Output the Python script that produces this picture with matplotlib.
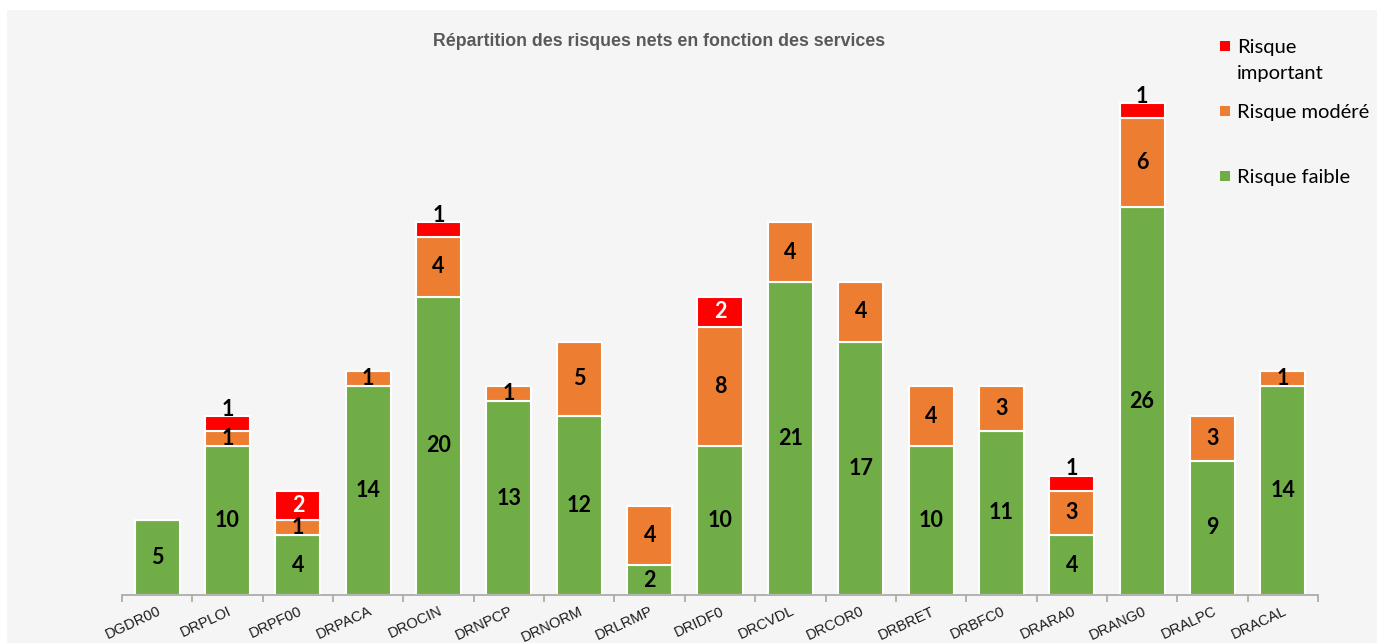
import numpy as np
import matplotlib.pyplot as plt
from matplotlib.patches import Rectangle

# data
services = ["DGDR00", "DRPLOI", "DRPF00", "DRPACA", "DROCIN", "DRNPCP", "DRNORM",
            "DRLRMP", "DRIDF0", "DRCVDL", "DRCOR0", "DRBRET", "DRBFC0", "DRARA0",
            "DRANG0", "DRALPC", "DRACAL"]
faible = [5, 10, 4, 14, 20, 13, 12, 2, 10, 21, 17, 10, 11, 4, 26, 9, 14]
modere = [0, 1, 1, 1, 4, 1, 5, 4, 8, 4, 4, 4, 3, 3, 6, 3, 1]
important = [0, 1, 2, 0, 1, 0, 0, 0, 2, 0, 0, 0, 0, 1, 1, 0, 0]

c_faible = "#70AD47"
c_modere = "#ED7D31"
c_important = "#FF0000"

W, H = 1377, 643
fig = plt.figure(figsize=(W / 100, H / 100), dpi=100, facecolor="white")
# light grey chart area
fig.add_artist(Rectangle((7 / W, 0), 1 - 7 / W, 1 - 10 / H, transform=fig.transFigure,
                         facecolor="#F5F5F5", edgecolor="none", zorder=0))

ax = fig.add_axes([122 / W, 48 / H, (1318 - 122) / W, 507 / H])
ax.set_facecolor("none")

x = np.arange(len(services))
f = np.array(faible)
m = np.array(modere)
r = np.array(important)
bw = 0.64

ax.bar(x, f, bw, color=c_faible, edgecolor="white", linewidth=1.5)
ax.bar(x, m, bw, bottom=f, color=c_modere, edgecolor="white", linewidth=1.5)
ax.bar(x, r, bw, bottom=f + m, color=c_important, edgecolor="white", linewidth=1.5)

lab = dict(fontsize=15.5, fontweight="bold", family="Lato", ha="center")
for i in range(len(services)):
    if f[i]:
        ax.text(x[i], f[i] / 2, str(f[i]), color="black", va="center", **lab)
    if m[i]:
        ax.text(x[i], f[i] + m[i] / 2, str(m[i]), color="black", va="center", **lab)
    if r[i]:
        top = f[i] + m[i] + r[i]
        if r[i] == 1:
            # small red segment: label sits just above it
            ax.text(x[i], top - 0.25, str(r[i]), color="black", va="bottom", **lab)
        else:
            ax.text(x[i], top - r[i] / 2, str(r[i]), color="white", va="center", **lab)

ax.set_xlim(-0.5, len(services) - 0.5)
ax.set_ylim(0, 34)
ax.set_yticks([])
for s in ["top", "right", "left"]:
    ax.spines[s].set_visible(False)
ax.spines["bottom"].set_color("#A6A6A6")
ax.spines["bottom"].set_linewidth(1.2)

ax.set_xticks(x)
ax.set_xticklabels(services, rotation=25, ha="right", rotation_mode="anchor",
                   fontsize=10.5, family="Liberation Sans", color="#1a1a1a")
ax.tick_params(axis="x", which="major", length=0, pad=6.5)
ax.set_xticks(np.arange(-0.5, len(services)), minor=True)
ax.tick_params(axis="x", which="minor", length=5, color="#A6A6A6", width=1.2)

fig.text(659 / W, 1 - 42 / H, "Répartition des risques nets en fonction des services",
         ha="center", va="center", fontsize=12.8, fontweight="bold",
         family="Liberation Sans", color="#595959")

# legend
leg = [(c_important, "Risque\nimportant", 46), (c_modere, "Risque modéré", 111),
       (c_faible, "Risque faible", 176)]
for col, txt, yy in leg:
    fig.add_artist(Rectangle((1220 / W, 1 - (yy + 5) / H), 10 / W, 10 / H,
                             transform=fig.transFigure, facecolor=col, edgecolor="none"))
    fig.text(1237 / W, 1 - (yy - 7) / H, txt, ha="left", va="top", fontsize=14.5,
             family="Lato", color="black", linespacing=1.65)

fig.savefig("out.png", dpi=100, facecolor="white")
